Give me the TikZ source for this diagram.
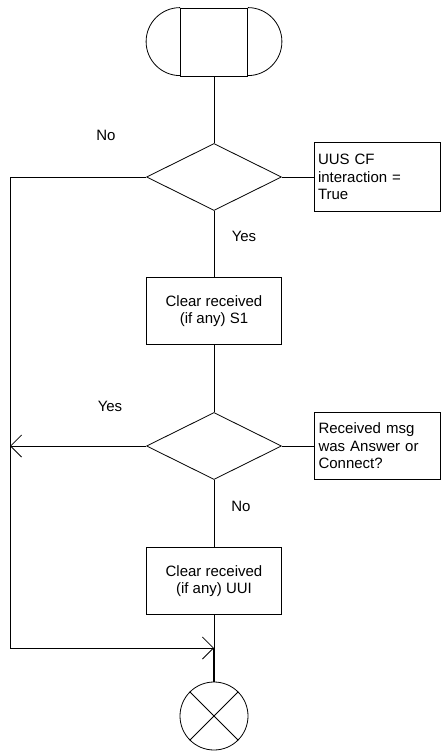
\documentclass[tikz,border=0pt]{standalone}
\usepackage{fontspec}
\setmainfont{Liberation Sans}
\usetikzlibrary{shapes.geometric, arrows.meta}

\begin{document}
\begin{tikzpicture}[x=1pt, y=-1pt, line width=0.8pt,
  >={Straight Barb[length=11pt, width=22pt]},
  every node/.style={font=\fontsize{15}{17.5}\selectfont},
  proc/.style={draw, minimum width=135pt, minimum height=67pt, inner sep=0pt, align=center},
  ask/.style={draw, diamond, aspect=2, minimum width=135pt, minimum height=67pt, inner sep=0pt},
  note/.style={draw, text width=118pt, inner xsep=4pt, minimum height=69pt, align=left}]
\useasboundingbox (0,0) rectangle (441,751);
% start symbol
\node[draw, minimum width=67pt, minimum height=68pt, inner sep=0pt] (start) at (214,42) {};
\draw (start.north west) arc[start angle=90, end angle=270, radius=34pt];
\draw (start.north east) arc[start angle=90, end angle=-90, radius=34pt];
% decisions, tasks and comments
\node[ask] (q1) at (214,177) {};
\node[note] (n1) at (377,177) {UUS CF\\interaction =\\True};
\node[proc] (clrS) at (214,311) {Clear received\\(if any) S1};
\node[ask] (q2) at (214,446) {};
\node[note, minimum height=67pt] (n2) at (377.5,446) {Received msg\\was Answer or\\Connect?};
\node[proc] (clrU) at (214,581) {Clear received\\(if any) UUI};
\node[draw, circle, minimum size=68pt, inner sep=0pt] (stop) at (214,716) {};
\draw (stop.north west)--(stop.south east) (stop.north east)--(stop.south west);
% labels
\node (no1) at (106,135) {No};
\node (yes1) at (244,236) {Yes};
\node (yes2) at (110,406) {Yes};
\node (no2) at (241,506) {No};
% connectors
\coordinate (c1) at (10,177);
\coordinate (c2) at (10,648);
\coordinate (join) at (214,648);
\coordinate (c3) at (10,446);
\draw (start.south)--(q1.north);
\draw (q1.east)--(n1.west);
\draw (q1.south)--(clrS.north);
\draw (clrS.south)--(q2.north);
\draw (q2.east)--(n2.west);
\draw (q2.south)--(clrU.north);
\draw[->] (q2.west)--(c3);
\draw[->] (q1.west)--(c1)--(c2)--(join);
\draw (clrU.south)--(join);
\draw[line width=1.5pt] (join)--(stop.north);
\end{tikzpicture}
\end{document}
